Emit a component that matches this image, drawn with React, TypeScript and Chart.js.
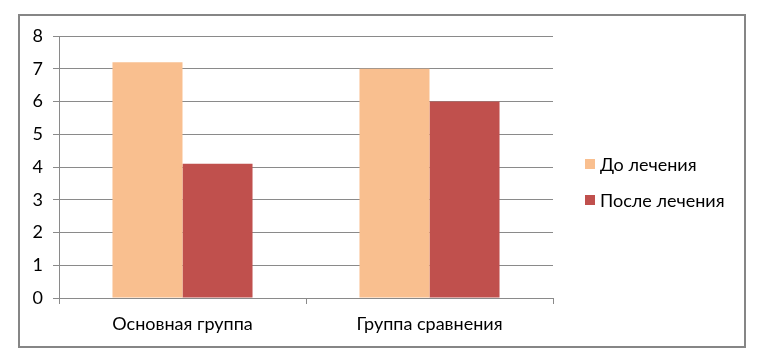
import React, { useEffect, useRef } from "react";
import { Chart, registerables } from "chart.js";

Chart.register(...registerables);

const categories = ["Основная группа", "Группа сравнения"];
const seriesLabels = ["До лечения", "После лечения"];
const beforeValues = [7.2, 7.0];
const afterValues = [4.1, 6.0];
const yTicks = [0, 1, 2, 3, 4, 5, 6, 7, 8];

const COLORS = ["#F9BF8F", "#C0504D"];
const FONT = "Lato, 'Open Sans', sans-serif";
const GRID = "#8A8A8A";

const legendPlugin = {
  id: "sideLegend",
  afterDraw(chart: any) {
    const ctx = chart.ctx;
    ctx.save();
    ctx.font = `18px ${FONT}`;
    ctx.textBaseline = "middle";
    ctx.textAlign = "left";
    const ys = [164, 200];
    chart.data.datasets.forEach((ds: any, i: number) => {
      const y = ys[i];
      ctx.fillStyle = ds.backgroundColor;
      ctx.fillRect(585, y - 5, 10, 10);
      ctx.fillStyle = "#000";
      ctx.fillText(ds.label, 600, y + 1);
    });
    ctx.restore();
  },
};

export default function App() {
  const ref = useRef<HTMLCanvasElement>(null);
  useEffect(() => {
    if (!ref.current) return;
    const chart = new Chart(ref.current, {
      type: "bar",
      data: {
        labels: categories,
        datasets: [
          { label: seriesLabels[0], data: beforeValues, backgroundColor: COLORS[0] },
          { label: seriesLabels[1], data: afterValues, backgroundColor: COLORS[1] },
        ],
      },
      options: {
        responsive: false,
        animation: false,
        devicePixelRatio: 1,
        layout: { padding: { top: 36, right: 208, left: 0, bottom: 0 } },
        datasets: { bar: { categoryPercentage: 0.567, barPercentage: 1 } },
        plugins: { legend: { display: false }, tooltip: { enabled: false } },
        scales: {
          x: {
            grid: {
              offset: true,
              drawOnChartArea: false,
              drawTicks: true,
              tickLength: 6,
              color: GRID,
            },
            border: { display: true, color: GRID },
            ticks: { color: "#000", font: { family: FONT, size: 18 }, padding: 9 },
            afterFit(scale: any) {
              scale.height = 64;
            },
          },
          y: {
            min: 0,
            max: 8,
            afterBuildTicks(scale: any) {
              scale.ticks = yTicks.map((v) => ({ value: v }));
            },
            grid: { color: GRID, tickLength: 6, drawTicks: true },
            border: { display: true, color: GRID },
            ticks: { color: "#000", font: { family: FONT, size: 18 }, padding: 10 },
            afterFit(scale: any) {
              scale.width = 59;
            },
          },
        },
      },
      plugins: [legendPlugin],
    });
    return () => chart.destroy();
  }, []);
  return (
    <div style={{ position: "absolute", left: 0, top: 0, width: 761, height: 362, background: "#fff" }}>
      <div
        style={{
          position: "absolute",
          left: 18,
          top: 14,
          width: 728,
          height: 334,
          boxSizing: "border-box",
          border: "2px solid #868686",
        }}
      />
      <canvas ref={ref} width={761} height={362} style={{ position: "absolute", left: 0, top: 0, width: 761, height: 362 }} />
    </div>
  );
}
